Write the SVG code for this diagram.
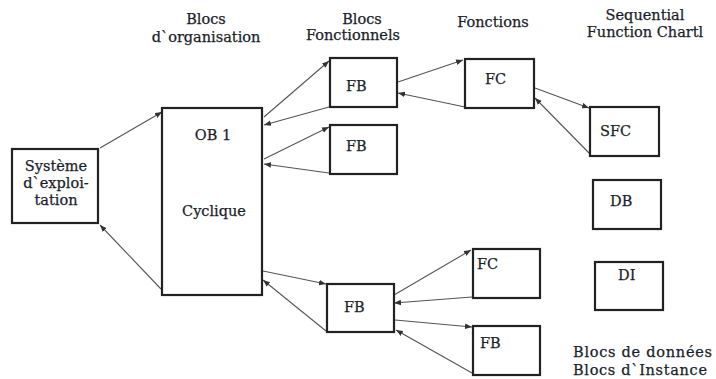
<svg xmlns="http://www.w3.org/2000/svg" width="716" height="379" viewBox="0 0 716 379">
  <defs>
    <marker id="head" viewBox="0 0 10 8" refX="10" refY="4" markerWidth="7" markerHeight="6" markerUnits="userSpaceOnUse" orient="auto">
      <path d="M0,0 L10,4 L0,8 Z" fill="#333"/>
    </marker>
    <style>
      .box { fill: #fff; stroke: #222; stroke-width: 2.2; }
      .lbl { font-family: "DejaVu Serif", "Liberation Serif", serif; font-size: 14.5px; fill: #1a1e2a; stroke: #1a1e2a; stroke-width: 0.25; }
      .hdr { font-family: "DejaVu Serif", "Liberation Serif", serif; font-size: 14.5px; fill: #1a1e2a; stroke: #1a1e2a; stroke-width: 0.25; text-anchor: middle; }
      .mid { text-anchor: middle; }
      .link { fill: none; stroke: #555; stroke-width: 1.1; marker-end: url(#head); }
    </style>
  </defs>
  <rect width="716" height="379" fill="#fff"/>

  <!-- column headings -->
  <g id="headings">
    <text class="hdr" x="206" y="24">Blocs</text>
    <text class="hdr" x="206" y="42">d`organisation</text>
    <text class="hdr" x="362" y="24">Blocs</text>
    <text class="hdr" x="353" y="40">Fonctionnels</text>
    <text class="hdr" x="493" y="27">Fonctions</text>
    <text class="hdr" x="645" y="20">Sequential</text>
    <text class="hdr" x="645" y="37">Function Chartl</text>
    <text class="lbl" x="573" y="357" textLength="139">Blocs de données</text>
    <text class="lbl" x="573" y="375" textLength="134">Blocs d`Instance</text>
  </g>

  <!-- connectors -->
  <g id="connectors">
    <line class="link" x1="100" y1="148" x2="162" y2="112"/>
    <line class="link" x1="161" y1="289" x2="100" y2="225"/>
    <line class="link" x1="264" y1="117" x2="329" y2="61"/>
    <line class="link" x1="329" y1="107" x2="264" y2="125"/>
    <line class="link" x1="264" y1="159" x2="329" y2="127"/>
    <line class="link" x1="329" y1="173" x2="264" y2="164"/>
    <line class="link" x1="398" y1="82" x2="463" y2="60"/>
    <line class="link" x1="465" y1="107" x2="398" y2="93"/>
    <line class="link" x1="535" y1="88" x2="589" y2="108"/>
    <line class="link" x1="590" y1="154" x2="535" y2="98"/>
    <line class="link" x1="263" y1="271" x2="326" y2="284"/>
    <line class="link" x1="326" y1="331" x2="263" y2="280"/>
    <line class="link" x1="394" y1="295" x2="471" y2="250"/>
    <line class="link" x1="472" y1="297" x2="394" y2="303"/>
    <line class="link" x1="395" y1="320" x2="472" y2="327"/>
    <line class="link" x1="472" y1="373" x2="396" y2="330"/>
  </g>

  <g id="systeme">
    <rect class="box" x="12" y="149" width="86" height="74"/>
    <text class="lbl mid" x="56" y="171">Système</text>
    <text class="lbl mid" x="56" y="188">d`exploi-</text>
    <text class="lbl mid" x="56" y="205">tation</text>
  </g>

  <g id="ob1">
    <rect class="box" x="162" y="108" width="100" height="187"/>
    <text class="lbl mid" x="213" y="140">OB 1</text>
    <text class="lbl mid" x="214" y="216">Cyclique</text>
  </g>

  <g id="fb1">
    <rect class="box" x="330" y="58" width="67" height="49"/>
    <text class="lbl" x="346" y="91">FB</text>
  </g>

  <g id="fb2">
    <rect class="box" x="330" y="125" width="67" height="49"/>
    <text class="lbl" x="346" y="151">FB</text>
  </g>

  <g id="fb3">
    <rect class="box" x="327" y="284" width="67" height="48"/>
    <text class="lbl" x="344" y="312">FB</text>
  </g>

  <g id="fc1">
    <rect class="box" x="465" y="59" width="69" height="49"/>
    <text class="lbl" x="485" y="84">FC</text>
  </g>

  <g id="fc2">
    <rect class="box" x="473" y="249" width="67" height="49"/>
    <text class="lbl" x="477" y="269">FC</text>
  </g>

  <g id="fb4">
    <rect class="box" x="473" y="326" width="67" height="49"/>
    <text class="lbl" x="480" y="348">FB</text>
  </g>

  <g id="sfc">
    <rect class="box" x="590" y="107" width="69" height="49"/>
    <text class="lbl" x="600" y="136">SFC</text>
  </g>

  <g id="db">
    <rect class="box" x="593" y="180" width="68" height="49"/>
    <text class="lbl" x="610" y="206">DB</text>
  </g>

  <g id="di">
    <rect class="box" x="595" y="262" width="68" height="48"/>
    <text class="lbl" x="618" y="280">DI</text>
  </g>
</svg>
